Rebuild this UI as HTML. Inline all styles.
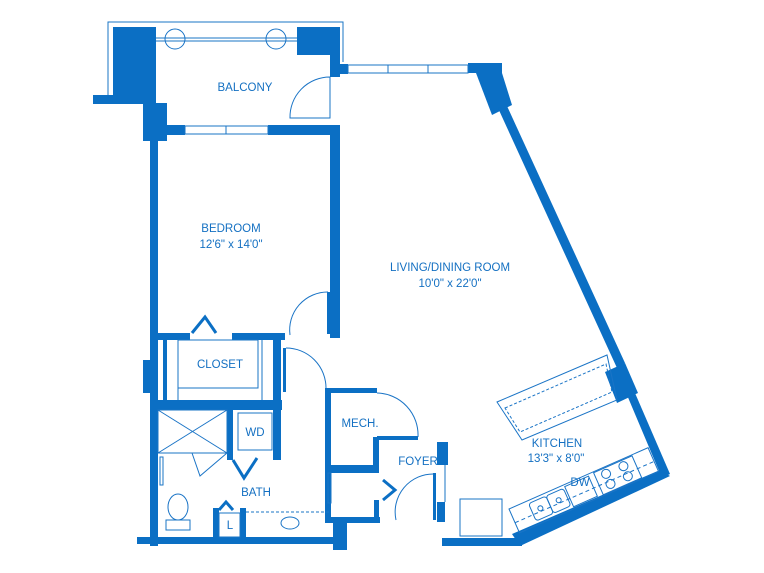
<!DOCTYPE html>
<html><head><meta charset="utf-8"><style>
html,body{margin:0;padding:0;background:#fff;}
svg{display:block;}
text{font-family:"Liberation Sans",sans-serif;font-size:11.5px;fill:#1470c2;text-anchor:middle;}
</style></head><body>
<svg width="764" height="573" viewBox="0 0 764 573" xmlns="http://www.w3.org/2000/svg">
<g fill="#0b6fc4" stroke="none">
<rect x="113" y="27" width="43" height="73"/>
<rect x="93" y="95" width="63" height="9"/>
<rect x="143" y="103" width="24" height="38"/>
<rect x="297" y="27" width="43" height="28"/>
<rect x="330" y="55" width="10" height="22"/>
<rect x="338" y="64" width="10" height="10"/>
<rect x="468" y="63" width="34" height="10"/>
<polygon points="476,73 502,73 512,105 492,115"/>
<polygon points="498,108 507,106 625,363 617,368"/>
<polygon points="605,372 625,363 638,393 617,403"/>
<polygon points="627,395 635,393 670,474 662,478"/>
<polygon points="660,470 670,476 520,546 512,534"/>
<rect x="442" y="538" width="80" height="8"/>
<rect x="167" y="125" width="18" height="10"/>
<rect x="268" y="125" width="72" height="10"/>
<rect x="330" y="125" width="10" height="213"/>
<rect x="150" y="134" width="8" height="412"/>
<rect x="143" y="360" width="10" height="33"/>
<rect x="150" y="333" width="40" height="7"/>
<rect x="232" y="333" width="53" height="7"/>
<rect x="163" y="338" width="4" height="62"/>
<rect x="150" y="400" width="132" height="10"/>
<rect x="273" y="338" width="8" height="122"/>
<rect x="227" y="410" width="6" height="50"/>
<rect x="137" y="537" width="210" height="7"/>
<rect x="333" y="517" width="14" height="33"/>
<rect x="213" y="508" width="6" height="30"/>
<rect x="240" y="508" width="6" height="30"/>
<rect x="325" y="388" width="52" height="5"/>
<rect x="325" y="388" width="6" height="135"/>
<rect x="377" y="436" width="41" height="4"/>
<rect x="373" y="437" width="6" height="30"/>
<rect x="325" y="465" width="54" height="8"/>
<rect x="325" y="517" width="55" height="6"/>
<rect x="374" y="500" width="5" height="20"/>
<rect x="437" y="442" width="11" height="23"/>
<rect x="437" y="502" width="8" height="20"/>
<rect x="283" y="348" width="3" height="44"/>
<rect x="327" y="292" width="3" height="42"/>
<rect x="433" y="473" width="3" height="47"/>
</g>
<g fill="none" stroke="#1a74c6" stroke-width="1">
<path d="M108,95 V22 H343 V62"/>
<line x1="156" y1="38" x2="297" y2="38"/><line x1="156" y1="41" x2="297" y2="41"/>
<circle cx="175" cy="39" r="10"/><circle cx="276" cy="39" r="10"/>
<rect x="185" y="126" width="83" height="8"/><line x1="226" y1="126" x2="226" y2="134"/>
<rect x="348" y="65" width="120" height="8"/><line x1="388" y1="65" x2="388" y2="73"/><line x1="428" y1="65" x2="428" y2="73"/>
<path d="M330,77 V118 H290 A40,40 0 0 1 330,77"/>
<path d="M290,335 A38,38 0 0 1 328,292"/>
<path d="M286,348 A40,40 0 0 1 326,388"/>
<path d="M377,393 A42,42 0 0 1 418,437"/>
<path d="M396,520 A38,38 0 0 1 434,474"/>
<rect x="178" y="340" width="80" height="48"/>
<line x1="178" y1="340" x2="178" y2="400"/><line x1="262" y1="340" x2="262" y2="400"/>
<rect x="158" y="410" width="69" height="43"/><line x1="158" y1="410" x2="227" y2="453"/><line x1="227" y1="410" x2="158" y2="453"/>
<path d="M192,453 L200,476 L227,453"/>
<rect x="238" y="413" width="34" height="37"/>
<rect x="160" y="457" width="3" height="28"/>
<ellipse cx="178" cy="507" rx="10" ry="13"/><path d="M166,520 H190 V530 H166 Z"/>
<rect x="219" y="513" width="21" height="24"/>
<line x1="246" y1="512" x2="330" y2="512" stroke-dasharray="3,2"/>
<ellipse cx="290" cy="523" rx="9" ry="6"/>
<rect x="328" y="473" width="3" height="30"/>
<rect x="460" y="499" width="42" height="37"/>
<line x1="445" y1="465" x2="445" y2="502"/>
<polygon points="497,402 607,355 617,400 522,440"/>
<polygon points="505,408 606,364 612,392 520,432" stroke-dasharray="3,2"/>
<g transform="translate(509,509) rotate(-23.8)">
<rect x="0" y="0" width="152" height="26"/>
<line x1="0" y1="15" x2="152" y2="15" stroke-dasharray="4,3"/>
<rect x="20" y="3" width="19" height="19" rx="3"/><rect x="39" y="3" width="19" height="19" rx="3"/>
<circle cx="29" cy="12" r="2.5"/><circle cx="49" cy="12" r="2.5"/>
<rect x="60" y="2" width="26" height="22"/>
<rect x="92" y="1" width="42" height="24"/>
<circle cx="103" cy="7" r="4.5"/><circle cx="122" cy="7" r="4.5"/><circle cx="103" cy="18" r="4.5"/><circle cx="122" cy="18" r="4.5"/>
</g>
</g>
<g fill="none" stroke="#0b6fc4" stroke-width="3">
<path d="M192,333 L205,317 L216,333"/>
<path d="M233,460 L244,478 L257,458"/>
<path d="M383,480 L395,490 L383,500"/>
<path d="M219,510 L226,502 L233,510"/>
</g>
<text x="245" y="91">BALCONY</text>
<text x="231" y="232">BEDROOM</text>
<text x="231" y="248">12'6" x 14'0"</text>
<text x="450" y="271">LIVING/DINING ROOM</text>
<text x="450" y="287">10'0" x 22'0"</text>
<text x="220" y="368">CLOSET</text>
<text x="360" y="427">MECH.</text>
<text x="255" y="436">WD</text>
<text x="418" y="465">FOYER</text>
<text x="256" y="496">BATH</text>
<text x="557" y="447">KITCHEN</text>
<text x="556" y="462">13'3" x 8'0"</text>
<text x="580" y="486">DW</text>
<text x="230" y="529">L</text>
</svg>
</body></html>
